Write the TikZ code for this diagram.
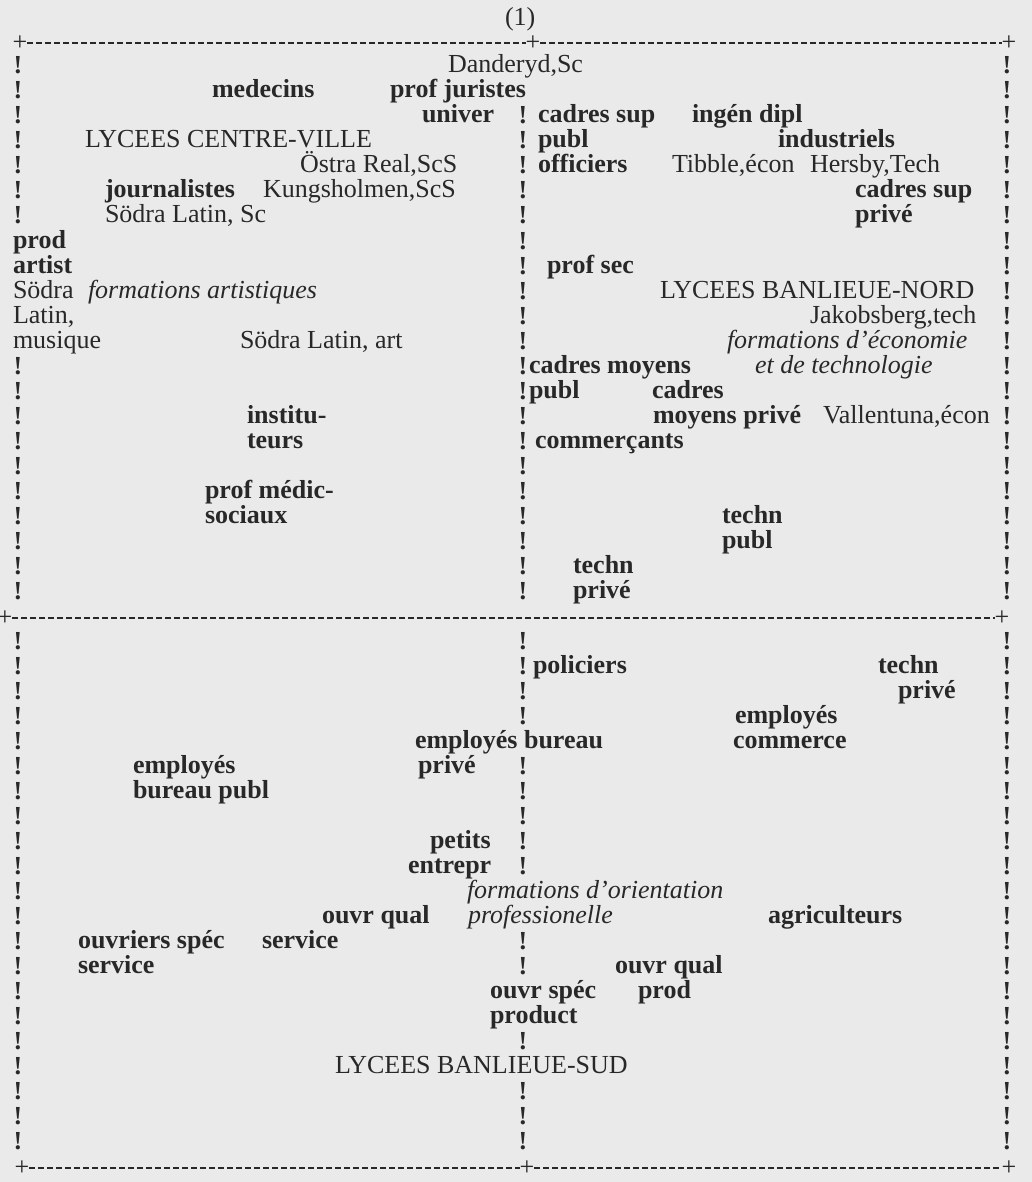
\documentclass[tikz,border=0pt]{standalone}
\usepackage{fontspec}
\setmainfont{Liberation Serif}
\definecolor{pagebg}{RGB}{234,234,234}
\definecolor{ink}{RGB}{40,40,40}
\begin{document}
\begin{tikzpicture}[x=1pt,y=-1pt,
  trg/.style={anchor=base west,inner sep=0pt,outer sep=0pt,text=ink,font=\fontsize{26}{26}\selectfont},
  tbf/.style={trg,font=\fontsize{26}{26}\selectfont\bfseries},
  tit/.style={trg,font=\fontsize{26}{26}\selectfont\itshape},
  bangmark/.style={anchor=base,inner sep=0pt,outer sep=0pt,text=ink,font=\fontsize{26}{26}\selectfont\bfseries},
  plusmark/.style={inner sep=0pt,outer sep=0pt,text=ink,font=\fontsize{26}{26}\selectfont},
  dashrule/.style={draw=ink,line width=1.8pt,dash pattern=on 6pt off 3pt}]
\fill[pagebg] (0,0) rectangle (1032,1182);
\useasboundingbox (0,0) rectangle (1032,1182);

% title
\node[trg] (title) at (505,26) {(1)};

% frame corners and crossings
\node[plusmark] (tl) at (20,43) {+};
\node[plusmark] (tm) at (533,43) {+};
\node[plusmark] (tr) at (1009,43) {+};
\node[plusmark] (ml) at (5,618) {+};
\node[plusmark] (mr) at (1002,618) {+};
\node[plusmark] (bl) at (22,1168) {+};
\node[plusmark] (bm) at (527,1168) {+};
\node[plusmark] (br) at (1009,1168) {+};
\draw[dashrule] (tl.east) -- (tm.west);
\draw[dashrule] (tm.east) -- (tr.west);
\draw[dashrule] (ml.east) -- (mr.west);
\draw[dashrule] (bl.east) -- (bm.west);
\draw[dashrule] (bm.east) -- (br.west);

% vertical columns of "!"
\foreach \k in {0,...,6} {\node[bangmark] (lc\k) at (18,{74+25*\k}) {!};}
\foreach \k in {12,...,21} {\node[bangmark] (lc\k) at (18,{74+25*\k}) {!};}
\foreach \k in {23,...,43} {\node[bangmark] (lc\k) at (18,{74+25*\k}) {!};}
\foreach \k in {2,...,21} {\node[bangmark] (mc\k) at (523,{74+25*\k}) {!};}
\foreach \k in {23,...,26} {\node[bangmark] (mc\k) at (523,{74+25*\k}) {!};}
\foreach \k in {28,...,32} {\node[bangmark] (mc\k) at (523,{74+25*\k}) {!};}
\foreach \k in {35,36,39,41,42,43} {\node[bangmark] (mc\k) at (523,{74+25*\k}) {!};}
\foreach \k in {0,...,21} {\node[bangmark] (rc\k) at (1007,{74+25*\k}) {!};}
\foreach \k in {23,...,43} {\node[bangmark] (rc\k) at (1007,{74+25*\k}) {!};}

% upper half
\node[trg] (dand) at (448,73) {Danderyd,Sc};
\node[tbf] (med) at (212,98) {medecins};
\node[tbf] (profjur) at (390,98) {prof juristes};
\node[tbf] (univ) at (422,123) {univer};
\node[tbf] (cadsup) at (538,123) {cadres sup};
\node[tbf] (ingen) at (692,123) {ingén dipl};
\node[trg] (lcv) at (85,148) {LYCEES CENTRE-VILLE};
\node[tbf] (publa) at (538,148) {publ};
\node[tbf] (indus) at (778,148) {industriels};
\node[trg] (ostra) at (300,173) {Östra Real,ScS};
\node[tbf] (offic) at (538,173) {officiers};
\node[trg] (tibble) at (672,173) {Tibble,écon};
\node[trg] (hersby) at (810,173) {Hersby,Tech};
\node[tbf] (journ) at (105,198) {journalistes};
\node[trg] (kungs) at (263,198) {Kungsholmen,ScS};
\node[tbf] (cadsupb) at (855,198) {cadres sup};
\node[trg] (sodsc) at (105,223) {Södra Latin, Sc};
\node[tbf] (privea) at (855,223) {privé};
\node[tbf] (prod) at (13,248) {prod};
\node[tbf] (artist) at (13,273) {artist};
\node[tbf] (profsec) at (547,273) {prof sec};
\node[trg] (sodra) at (13,298) {Södra};
\node[tit] (fart) at (88,298) {formations artistiques};
\node[trg] (lbn) at (660,298) {LYCEES BANLIEUE-NORD};
\node[trg] (latin) at (13,323) {Latin,};
\node[trg] (jakob) at (810,323) {Jakobsberg,tech};
\node[trg] (musiq) at (13,348) {musique};
\node[trg] (sodart) at (240,348) {Södra Latin, art};
\node[tit] (feco) at (727,348) {formations d’économie};
\node[tbf] (cadmoy) at (529,373) {cadres moyens};
\node[tit] (ftech) at (755,373) {et de technologie};
\node[tbf] (publb) at (529,398) {publ};
\node[tbf] (cadres) at (652,398) {cadres};
\node[tbf] (instit) at (247,423) {institu-};
\node[tbf] (moypriv) at (653,423) {moyens privé};
\node[trg] (vallen) at (823,423) {Vallentuna,écon};
\node[tbf] (teurs) at (247,448) {teurs};
\node[tbf] (commer) at (535,448) {commerçants};
\node[tbf] (profmed) at (205,498) {prof médic-};
\node[tbf] (sociaux) at (205,523) {sociaux};
\node[tbf] (technpa) at (722,523) {techn};
\node[tbf] (technpb) at (722,548) {publ};
\node[tbf] (technva) at (573,573) {techn};
\node[tbf] (technvb) at (573,598) {privé};

% lower half
\node[tbf] (polic) at (533,673) {policiers};
\node[tbf] (technla) at (878,673) {techn};
\node[tbf] (technlb) at (898,698) {privé};
\node[tbf] (empcoma) at (735,723) {employés};
\node[tbf] (empbur) at (415,748) {employés bureau};
\node[tbf] (empcomb) at (733,748) {commerce};
\node[tbf] (emppa) at (133,773) {employés};
\node[tbf] (empburb) at (418,773) {privé};
\node[tbf] (emppb) at (133,798) {bureau publ};
\node[tbf] (petits) at (430,848) {petits};
\node[tbf] (entrepr) at (408,873) {entrepr};
\node[tit] (forient) at (467,898) {formations d’orientation};
\node[tbf] (ouvqs) at (322,923) {ouvr qual};
\node[tit] (fprof) at (468,923) {professionelle};
\node[tbf] (agric) at (768,923) {agriculteurs};
\node[tbf] (ouvspec) at (78,948) {ouvriers spéc};
\node[tbf] (servic) at (262,948) {service};
\node[tbf] (servicb) at (78,973) {service};
\node[tbf] (ouvqp) at (615,973) {ouvr qual};
\node[tbf] (ouvsp) at (490,998) {ouvr spéc};
\node[tbf] (prodb) at (638,998) {prod};
\node[tbf] (product) at (490,1023) {product};
\node[trg] (lbs) at (335,1073) {LYCEES BANLIEUE-SUD};
\end{tikzpicture}
\end{document}
